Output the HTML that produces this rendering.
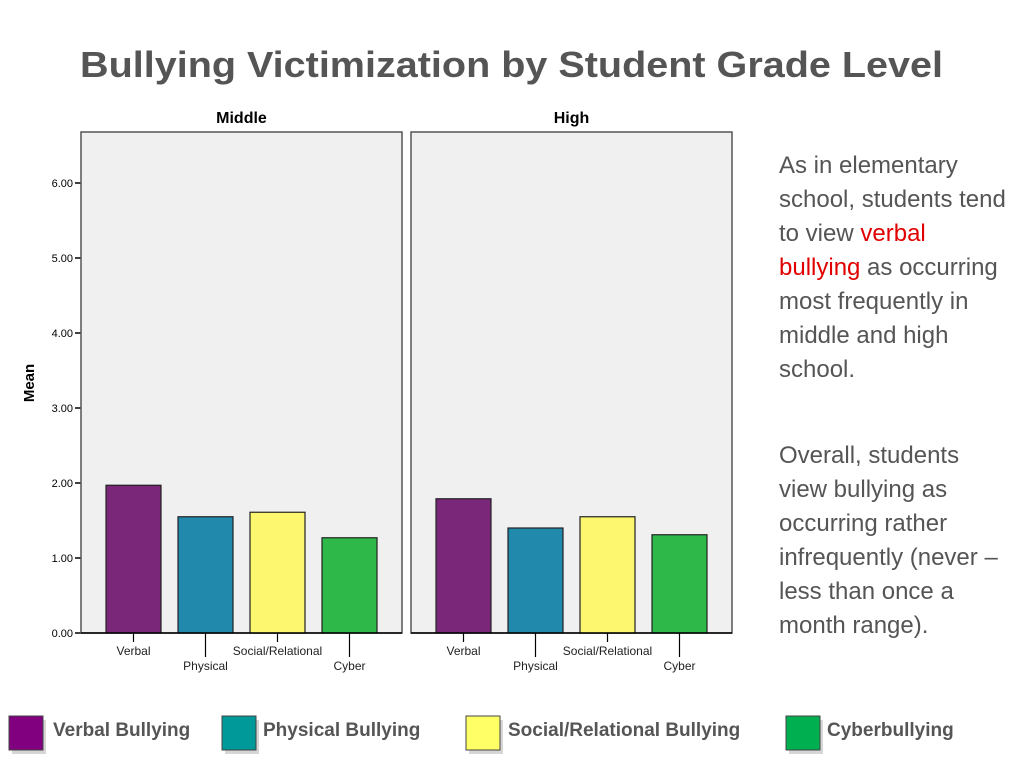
<!DOCTYPE html>
<html><head><meta charset="utf-8"><style>
html,body{margin:0;padding:0;background:#fff;}
svg{display:block;font-family:"Liberation Sans",Arial,sans-serif;}
</style></head><body>
<svg id="chart" width="1024" height="768" viewBox="0 0 1024 768" xmlns="http://www.w3.org/2000/svg">
<text x="80" y="77" font-size="36" font-weight="bold" fill="#555" textLength="863" lengthAdjust="spacingAndGlyphs">Bullying Victimization by Student Grade Level</text>
<text transform="translate(34,383) rotate(-90)" text-anchor="middle" font-size="15" font-weight="bold" fill="#000">Mean</text>
<g id="axis"></g>
<g id="panels"></g>
<g font-size="24" fill="#555">
<text x="779" y="173">As in elementary</text>
<text x="779" y="207">school, students tend</text>
<text x="779" y="241">to view <tspan fill="#e00000">verbal</tspan></text>
<text x="779" y="275"><tspan fill="#e00000">bullying</tspan> as occurring</text>
<text x="779" y="309">most frequently in</text>
<text x="779" y="343">middle and high</text>
<text x="779" y="377">school.</text>
<text x="779" y="463">Overall, students</text>
<text x="779" y="497">view bullying as</text>
<text x="779" y="531">occurring rather</text>
<text x="779" y="565">infrequently (never –</text>
<text x="779" y="599">less than once a</text>
<text x="779" y="633">month range).</text>
</g>
<g id="legend" font-size="19" font-weight="bold" fill="#555"></g>
</svg>
<script>
const categories = ["Verbal","Physical","Social/Relational","Cyber"];
const panels = ["Middle","High"];
const middleValues = [1.97,1.55,1.61,1.27];
const highValues = [1.79,1.40,1.55,1.31];
const yTicks = [0,1,2,3,4,5,6];
const yTickLabels = ["0.00","1.00","2.00","3.00","4.00","5.00","6.00"];
const legendLabels = ["Verbal Bullying","Physical Bullying","Social/Relational Bullying","Cyberbullying"];

const NS="http://www.w3.org/2000/svg";
const colors=["#7b2779","#2189ac","#fcf76f","#2fb84a"];
const legendColors=["#800080","#009999","#ffff66","#00b050"];
const y0=633, pxPerUnit=75, plotTop=132;
const panelX=[81,411], panelW=321, barOff=25, barW=55, pitch=72;
function y(v){return y0-v*pxPerUnit;}
function mk(tag,attrs,parent){const e=document.createElementNS(NS,tag);for(const k in attrs)e.setAttribute(k,attrs[k]);parent.appendChild(e);return e;}

const axis=document.getElementById('axis');
yTicks.forEach((t,i)=>{
  const l=mk('line',{x1:75,x2:81,y1:y(t),y2:y(t),stroke:'#000','stroke-width':1.5},axis);
  
  
  const tx=mk('text',{x:73,y:y(t)+4,'text-anchor':'end','font-size':11,fill:'#000'},axis);
  
  
  tx.textContent=yTickLabels[i];
});

const pg=document.getElementById('panels');
const allValues=[middleValues,highValues];
panels.forEach((p,pi)=>{
  const g=mk('g',{},pg);
  
  
  const px=panelX[pi];
  const bg=mk('rect',{x:px,y:plotTop,width:panelW,height:y0-plotTop,fill:'#f0f0f0',stroke:'#555','stroke-width':1.5},g);
  
  
  const tt=mk('text',{x:px+panelW/2,y:123,'text-anchor':'middle','font-size':16,'font-weight':'bold',fill:'#000'},g);
  
  
  tt.textContent=p;
  allValues[pi].forEach((v,ci)=>{
    const bx=px+barOff+ci*pitch;
    const r=mk('rect',{x:bx,y:y(v),width:barW,height:y(0)-y(v),fill:colors[ci],stroke:'#222','stroke-width':1.2},g);
    
    
    const cx=bx+barW/2, long=ci%2===1;
    const tk=mk('line',{x1:cx,x2:cx,y1:y0,y2:y0+(long?24:9),stroke:'#000','stroke-width':1.2},g);
    
    
    const lb=mk('text',{x:cx,y:long?670:655,'text-anchor':'middle','font-size':12,fill:'#222'},g);
    
    
    lb.textContent=categories[ci];
  });
  const base=mk('line',{x1:px,x2:px+panelW,y1:y0,y2:y0,stroke:'#000','stroke-width':1.5},g);
  
  
});

const lg=document.getElementById('legend');
const legX=[9,222,466,786], textX=[53,263,508,827];
legendLabels.forEach((lab,i)=>{
  const e=mk('g',{},lg);
  
  
  mk('rect',{x:legX[i]+3,y:720,width:34,height:34,fill:'#bbb',opacity:0.6},e);
  mk('rect',{x:legX[i],y:716,width:34,height:34,fill:legendColors[i],stroke:'#444','stroke-width':1},e);
  const t=mk('text',{x:textX[i],y:736},e);
  t.textContent=lab;
});
</script>
</body></html>
